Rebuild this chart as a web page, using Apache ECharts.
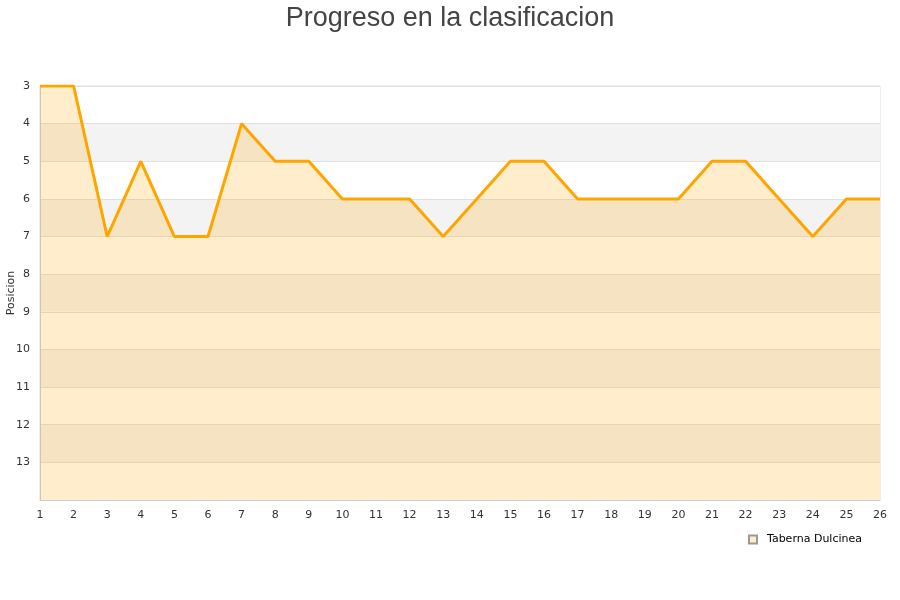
<!DOCTYPE html>
<html>
<head>
<meta charset="utf-8">
<script src="https://cdn.jsdelivr.net/npm/echarts@6/dist/echarts.min.js"></script>
<style>html,body{margin:0;padding:0;background:#fff}#c{width:900px;height:600px}</style>
</head>
<body>
<div id="c"></div>
<script>
var jornadas = ['1','2','3','4','5','6','7','8','9','10','11','12','13','14','15','16','17','18','19','20','21','22','23','24','25','26'];
var posiciones = [3,3,7,5,7,7,4,5,5,6,6,6,7,6,5,5,6,6,6,6,5,5,6,7,6,6];
var equipo = 'Taberna Dulcinea';
var titulo = 'Progreso en la clasificacion';

var chart = echarts.init(document.getElementById('c'));
chart.setOption({
  animation: false,
  title: {
    text: titulo, left: 'center', top: 0,
    textStyle: { fontFamily: 'Liberation Sans', fontSize: 27, fontWeight: 'normal', color: '#444' }
  },
  legend: {
    data: [equipo], right: 33, top: 529, icon: 'rect', itemWidth: 8, itemHeight: 8,
    textStyle: { fontFamily: 'DejaVu Sans', fontSize: 11, color: '#000', padding: [0, 0, 0, 5] }
  },
  grid: { left: 40, right: 20, top: 86, bottom: 100, containLabel: false, outerBoundsMode: 'none', show: true, borderColor: '#ddd', borderWidth: 1, backgroundColor: 'transparent' },
  xAxis: {
    type: 'category', data: jornadas, boundaryGap: false,
    axisLine: { lineStyle: { color: '#ccc' } },
    axisTick: { show: false },
    axisLabel: { color: '#333', fontFamily: 'DejaVu Sans', fontSize: 11, margin: 10 },
    splitLine: { show: false }
  },
  yAxis: {
    type: 'value', inverse: true, min: 3, max: 14, interval: 1,
    name: 'Posicion', nameLocation: 'middle', nameGap: 23, nameRotate: 90, nameMoveOverlap: false,
    nameTextStyle: { color: '#333', fontFamily: 'DejaVu Sans', fontSize: 11 },
    axisLine: { show: true, lineStyle: { color: '#ccc' } },
    axisTick: { show: false },
    axisLabel: { color: '#333', fontFamily: 'DejaVu Sans', fontSize: 11, showMaxLabel: false, margin: 10 },
    splitLine: { show: true, lineStyle: { color: '#e0e0e0' } },
    splitArea: { show: true, areaStyle: { color: ['#ffffff', '#f3f3f3'] } }
  },
  series: [{
    name: equipo, type: 'line', data: posiciones,
    showSymbol: false, symbol: 'none',
    lineStyle: { color: '#ffa500', width: 3 },
    itemStyle: { color: '#ffecc8', borderColor: '#999', borderWidth: 1 },
    areaStyle: { color: 'rgba(255,165,0,0.2)', opacity: 1, origin: 'end' }
  }]
});
</script>
</body>
</html>
